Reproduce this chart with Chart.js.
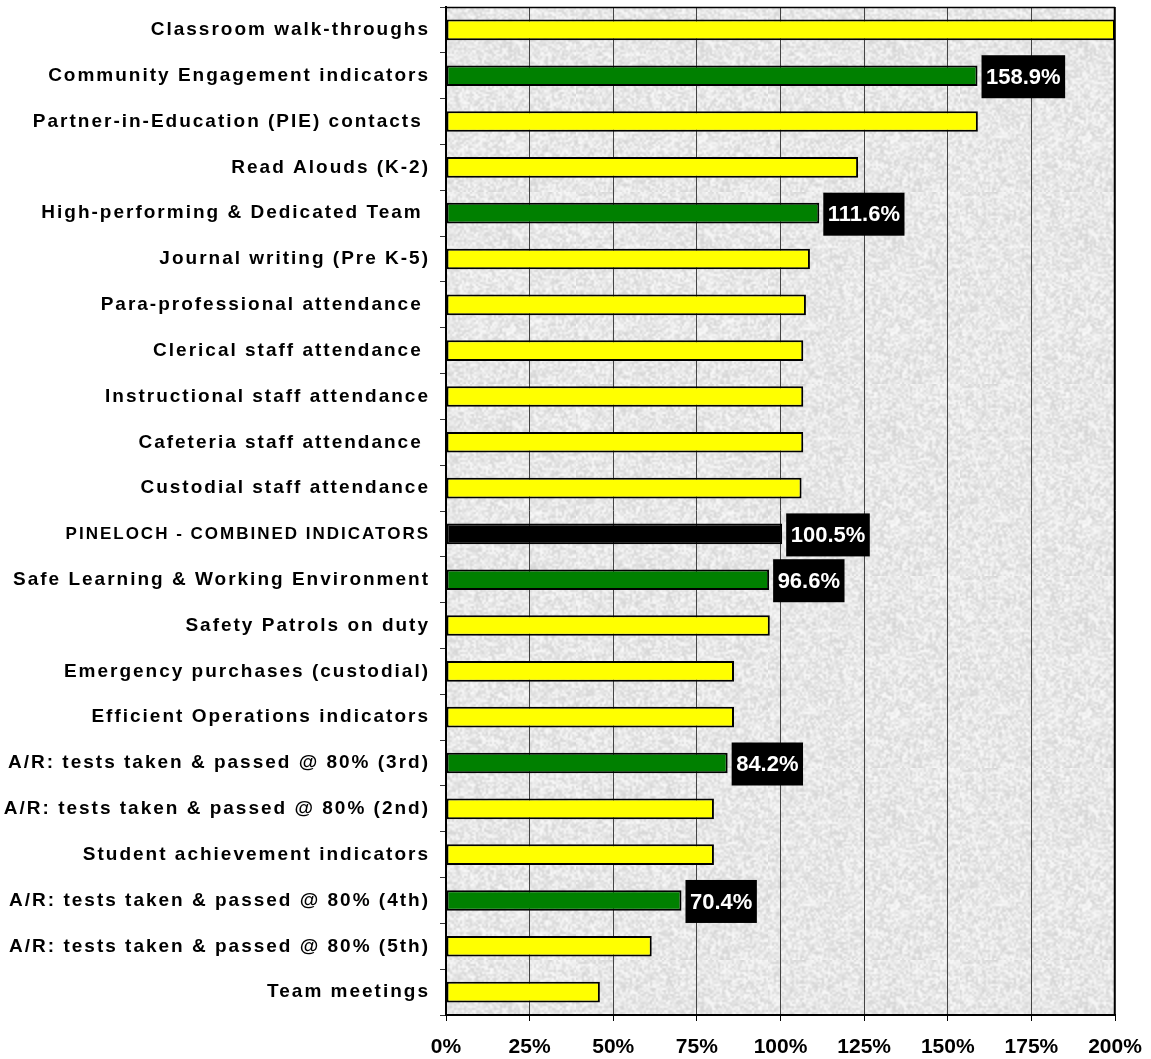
<!DOCTYPE html>
<html>
<head>
<meta charset="utf-8">
<script src="https://cdn.jsdelivr.net/npm/chart.js@4.4.1/dist/chart.umd.min.js"></script>
<style>
  html, body { margin: 0; padding: 0; background: #fff; }
</style>
</head>
<body>
<canvas id="chart-indicators" width="1151" height="1059"></canvas>
<script>
// categories, top to bottom
var categories = [
    "Classroom walk-throughs",
    "Community Engagement indicators",
    "Partner-in-Education (PIE) contacts ",
    "Read Alouds (K-2)",
    "High-performing & Dedicated Team ",
    "Journal writing (Pre K-5)",
    "Para-professional attendance ",
    "Clerical staff attendance ",
    "Instructional staff attendance",
    "Cafeteria staff attendance ",
    "Custodial staff attendance",
    "PINELOCH - COMBINED INDICATORS",
    "Safe Learning & Working Environment",
    "Safety Patrols on duty",
    "Emergency purchases (custodial)",
    "Efficient Operations indicators",
    "A/R: tests taken & passed @ 80% (3rd)",
    "A/R: tests taken & passed @ 80% (2nd)",
    "Student achievement indicators",
    "A/R: tests taken & passed @ 80% (4th)",
    "A/R: tests taken & passed @ 80% (5th)",
    "Team meetings"
];

// percent of target
var percentValues = [
    200.0, 158.9, 159.0, 123.2, 111.6, 108.8, 107.6, 106.8, 106.8, 106.8, 106.3,
    100.5, 96.6, 96.8, 86.1, 86.1, 84.2, 80.1, 80.1, 70.4, 61.5, 46.0
];

// rows that are summary indicators (green) and the overall combined row (black)
var indicatorRows = [
    "Community Engagement indicators",
    "High-performing & Dedicated Team ",
    "Safe Learning & Working Environment",
    "A/R: tests taken & passed @ 80% (3rd)",
    "A/R: tests taken & passed @ 80% (4th)"
];
var combinedRow = "PINELOCH - COMBINED INDICATORS";

var xTicks = [0, 25, 50, 75, 100, 125, 150, 175, 200];

var FONT = '"Liberation Sans", Arial, sans-serif';

function barColor(name) {
    if (name === combinedRow) return "#000000";
    if (indicatorRows.indexOf(name) >= 0) return "#008000";
    return "#FFFF00";
}

// speckled grey texture for the plot area
function makeTexture() {
    var n = 96;
    var small = document.createElement("canvas");
    small.width = small.height = n;
    var s = small.getContext("2d");
    var img = s.createImageData(n, n);
    var seed = 2024;
    for (var i = 0; i < img.data.length; i += 4) {
        seed = (Math.imul(seed, 1103515245) + 12345) >>> 0;
        var v = 212 + ((seed >>> 16) % 40);
        img.data[i] = img.data[i + 1] = img.data[i + 2] = v;
        img.data[i + 3] = 255;
    }
    s.putImageData(img, 0, 0);
    var big = document.createElement("canvas");
    big.width = big.height = n * 2;
    var b = big.getContext("2d");
    b.imageSmoothingEnabled = true;
    b.drawImage(small, 0, 0, n * 2, n * 2);
    return big;
}
var texture = makeTexture();

var plotBackground = {
    id: "plotBackground",
    beforeDraw: function(chart) {
        var a = chart.chartArea, ctx = chart.ctx;
        ctx.save();
        ctx.fillStyle = ctx.createPattern(texture, "repeat");
        ctx.fillRect(a.left, a.top, a.right - a.left, a.bottom - a.top);
        ctx.restore();
    },
    afterDraw: function(chart) {
        var a = chart.chartArea, ctx = chart.ctx;
        ctx.save();
        ctx.strokeStyle = "#000";
        ctx.lineWidth = 1.5;
        ctx.beginPath();
        ctx.moveTo(a.left, a.top + 0.5);
        ctx.lineTo(a.right, a.top + 0.5);
        ctx.moveTo(a.right - 0.5, a.top);
        ctx.lineTo(a.right - 0.5, a.bottom);
        ctx.stroke();
        ctx.restore();
    }
};

// wide letter spacing on the category labels
var spacedLabels = {
    id: "spacedLabels",
    afterLayout: function(chart) {
        var y = chart.scales.y;
        if (!y || y._spaced) return;
        var orig = y.drawLabels;
        y.drawLabels = function(area) {
            var ctx = this.ctx;
            ctx.save();
            ctx.letterSpacing = "2px";
            orig.call(this, area);
            ctx.restore();
        };
        y._spaced = true;
    }
};

// black value boxes next to indicator bars
var valueBoxes = {
    id: "valueBoxes",
    afterDatasetsDraw: function(chart) {
        var ctx = chart.ctx;
        var meta = chart.getDatasetMeta(0);
        meta.data.forEach(function(bar, i) {
            var name = categories[i];
            if (name !== combinedRow && indicatorRows.indexOf(name) < 0) return;
            var txt = percentValues[i].toFixed(1) + "%";
            ctx.save();
            ctx.font = "bold 22px " + FONT;
            var w = ctx.measureText(txt).width;
            var x0 = bar.x + 4, h = 43;
            ctx.fillStyle = "#000";
            ctx.fillRect(x0, bar.y - h / 2 + 1, w + 9, h);
            ctx.fillStyle = "#fff";
            ctx.textBaseline = "middle";
            ctx.fillText(txt, x0 + 4.5, bar.y + 2);
            ctx.restore();
        });
    }
};

var ctx = document.getElementById("chart-indicators");
var indicatorChart = new Chart(ctx, {
    type: "bar",
    data: {
        labels: categories,
        datasets: [{
            data: percentValues,
            backgroundColor: categories.map(barColor),
            borderColor: "#000",
            borderWidth: 2,
            borderSkipped: false,
            barPercentage: 0.45,
            categoryPercentage: 1.0
        }]
    },
    options: {
        indexAxis: "y",
        responsive: false,
        animation: false,
        layout: { padding: { top: 7, right: 36, left: 0, bottom: 0 } },
        plugins: {
            legend: { display: false },
            tooltip: { enabled: false }
        },
        scales: {
            x: {
                min: 0,
                max: 200,
                afterBuildTicks: function(scale) {
                    scale.ticks = xTicks.map(function(v) { return { value: v }; });
                },
                afterFit: function(scale) {
                    scale.height = 44;
                    scale.paddingLeft = 0;
                    scale.paddingRight = 0;
                },
                grid: {
                    color: "#444",
                    lineWidth: 1,
                    drawTicks: true,
                    tickLength: 6,
                    tickColor: "#000"
                },
                border: { display: true, color: "#000", width: 2 },
                ticks: {
                    color: "#000",
                    font: { family: FONT, size: 21, weight: "bold" },
                    padding: 14,
                    maxRotation: 0,
                    callback: function(v) { return v + "%"; }
                }
            },
            y: {
                afterFit: function(scale) {
                    scale.width = 446;
                    scale.paddingTop = 0;
                    scale.paddingBottom = 0;
                },
                grid: {
                    drawOnChartArea: false,
                    drawTicks: true,
                    tickLength: 6,
                    tickColor: "#333",
                    offset: true
                },
                border: { display: true, color: "#000", width: 2 },
                ticks: {
                    color: "#000",
                    padding: 10,
                    autoSkip: false,
                    font: function(c) {
                        var size = categories[c.index] === combinedRow ? 17 : 19;
                        return { family: FONT, size: size, weight: "bold" };
                    }
                }
            }
        }
    },
    plugins: [plotBackground, spacedLabels, valueBoxes]
});
</script>
</body>
</html>
